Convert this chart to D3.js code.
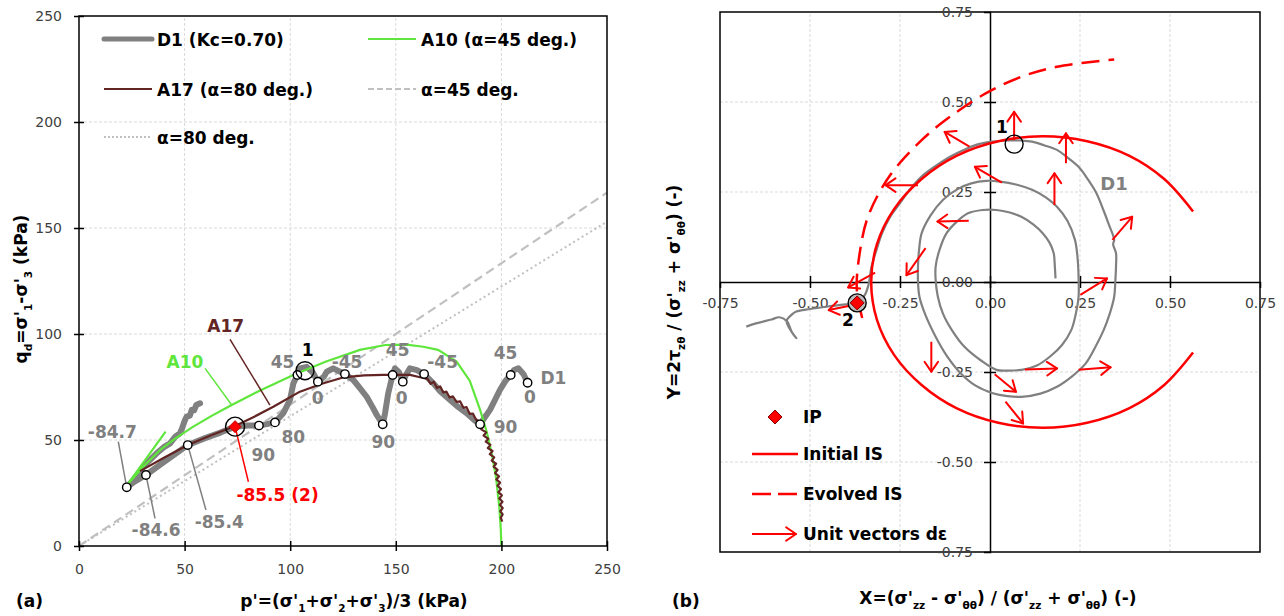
<!DOCTYPE html>
<html><head><meta charset="utf-8">
<script src="https://cdn.jsdelivr.net/npm/d3@7"></script>
<style>
body{margin:0;background:#fff;}
svg{display:block;font-family:"DejaVu Sans",Lato,sans-serif;}
</style></head><body>
<svg id="c" width="1284" height="616"></svg>
<script>
// ---------- DATA: left panel (p', q) ----------
const pTicks = [0, 50, 100, 150, 200, 250];
const qTicks = [0, 50, 100, 150, 200, 250];

const D1_p = [57.3,55.5,54.5,53.4,52.5,51.0,50.0,48.8,47.8,45.5,43.1,40.0,36.8,33.5,30.4,27.5,25.0,22.6,
  26.5,31.7,40.0,51.5,60.0,67.0,73.9,80.0,85.2,89.0,92.8,96.7,99.9,101.5,103.4,104.6,107.8,110.9,113.1,
  116.0,117.3,120.4,123.0,125.9,129.9,133.0,136.2,139.0,141.0,143.8,144.9,146.4,148.5,149.6,151.5,153.3,
  155.0,156.7,160.0,163.4,167.8,171.0,175.7,179.0,183.6,187.0,189.9,192.0,194.6,197.0,199.3,202.0,204.4,
  206.0,208.0,210.5,212.4];
const D1_q = [67.3,66.5,64.0,64.2,61.5,61.0,59.0,55.5,53.2,51.5,48.4,46.5,43.7,40.5,37.4,33.5,30.3,27.7,
  30.5,33.5,39.5,47.6,51.0,53.5,56.3,56.8,56.8,57.5,58.3,62.6,68.9,76.7,80.7,83.8,84.5,81.5,77.5,
  80.0,82.2,83.8,82.5,81.1,78.3,74.5,70.4,65.5,61.8,57.4,62.6,72.0,80.7,83.8,82.0,77.5,
  81.0,83.8,83.0,81.1,76.7,73.0,68.9,66.0,62.6,59.5,57.4,60.5,64.2,69.0,73.6,78.0,80.7,
  83.0,83.8,81.0,77.0];

const A10_p = [41.0,22.6,30.0,38.4,46.0,54.1,63.0,72.3,86.0,101.5,117.0,133.0,145.0,155.0,163.0,170.0,178.8,185.0,190.0,193.0,195.4,197.5,199.0,199.7,200.0];
const A10_q = [54.0,28.5,37.0,45.3,51.0,56.3,61.5,66.5,73.5,80.7,87.0,92.5,94.8,95.0,94.0,92.5,87.0,78.0,64.0,54.0,43.7,32.0,18.5,8.0,0.0];

const A17_p = [28.9,40.0,51.5,62.0,73.9,83.0,92.0,104.6,115.0,125.0,135.0,144.0,156.7,162.0,
  165.0,166.5,168.0,169.5,171.0,172.5,174.0,175.5,177.0,178.8,180.5,182.0,183.5,185.0,186.5,188.0,189.9,
  191.5,190.5,192.8,191.6,193.8,192.6,194.8,193.6,195.8,194.5,196.6,195.4,197.5,196.3,198.2,197.0,198.9,197.6,
  199.4,198.2,199.8,198.6,200.2,199.0,200.5,199.3,200.6,199.5,200.6,199.7,200.4];
const A17_q = [35.3,41.5,47.6,52.0,56.6,61.0,65.7,72.8,76.5,79.5,80.5,80.7,80.7,79.5,
  78.8,76.5,77.5,74.5,75.3,72.4,72.8,70.0,70.6,68.0,68.2,65.2,65.5,62.3,62.5,59.5,58.6,
  56.5,55.0,53.6,52.1,50.6,49.2,47.7,46.2,44.8,43.3,41.8,40.3,38.8,37.4,35.9,34.4,32.9,31.4,
  29.9,28.4,26.9,25.4,23.9,22.4,20.9,19.4,17.9,16.4,14.9,13.4,11.5];

const alpha45_p = [0, 250], alpha45_q = [0, 166.7];
const alpha80_p = [0, 250], alpha80_q = [0, 153.0];

const marker_p = [22.6,31.7,51.5,85.2,92.8,103.4,113.1,125.9,143.8,148.5,153.3,163.4,189.9,204.4,212.4];
const marker_q = [27.7,33.5,47.6,56.8,58.3,80.7,77.5,81.1,57.4,80.7,77.5,81.1,57.4,80.7,77.0];

const IP_left = [73.9, 56.3];
const point1_left = [107.0, 82.7];

// angle labels (text, p, q)
const angleLabels = ["45","0","-45","80","90","90","45","0","-45","90","45","0","D1"];
const angleLabel_p = [96.4,113.0,126.9,101.5,87.3,144.1,150.9,152.8,172.2,202.0,202.0,213.5,224.6];
const angleLabel_q = [87.0,69.7,86.8,51.6,42.9,49.2,92.5,69.7,87.0,56.3,90.9,70.1,79.1];

// callouts: text, text position, leader from -> to
const callouts = [
  {t:"-84.7", c:"#808080", tp:15.8, tq:53.9, p0:18.6, q0:49.2, p1:22.6, q1:27.7},
  {t:"-84.6", c:"#808080", tp:36.5, tq:7.5,  p0:31.7, q0:33.5, p1:36.0, q1:13.0},
  {t:"-85.4", c:"#808080", tp:66.4, tq:11.5, p0:51.5, q0:47.6, p1:60.1, q1:17.0},
  {t:"-85.5 (2)", c:"#ff0000", tp:94.0, tq:24.0, p0:73.9, q0:56.3, p1:80.2, q1:30.3},
  {t:"A10", c:"#5fe63c", tp:50.2, tq:87.0, p0:59.7, q0:83.8, p1:72.3, q1:66.5},
  {t:"A17", c:"#632523", tp:69.5, tq:104.0, p0:71.5, q0:97.5, p1:90.4, q1:66.5}
];

// ---------- DATA: right panel (X, Y) ----------
const xyTicks = [-0.75, -0.5, -0.25, 0, 0.25, 0.5, 0.75];
const xyTickLabels = ["-0.75","-0.50","-0.25","0.00","0.25","0.50","0.75"];

const D1r_X = [-0.677,-0.650,-0.607,-0.585,-0.565,-0.550,-0.538,-0.550,-0.565,-0.550,-0.538,-0.500,-0.450,-0.400,-0.369,
 -0.350,-0.338,-0.329,-0.315,-0.300,-0.278,-0.250,-0.220,-0.190,-0.150,-0.111,-0.070,-0.032,0.008,0.048,0.085,0.117,0.150,0.186,0.215,0.246,0.272,0.296,0.315,0.330,0.345,0.342,0.350,0.350,0.348,0.345,0.332,0.316,0.293,0.266,0.228,0.186,0.140,0.087,0.048,0.008,-0.040,-0.081,-0.120,-0.151,-0.180,-0.196,-0.200,
 -0.200,-0.197,-0.190,-0.165,-0.131,-0.090,-0.052,-0.010,0.028,0.075,0.117,0.155,0.186,0.215,0.236,0.243,0.246,0.246,0.238,0.226,0.200,0.167,0.130,0.087,0.050,0.018,-0.025,-0.071,-0.105,-0.131,-0.145,-0.151,
 -0.151,-0.140,-0.121,-0.095,-0.061,-0.020,0.018,0.055,0.087,0.120,0.147,0.165,0.177,0.180,0.182];
const D1r_Y = [-0.124,-0.115,-0.104,-0.098,-0.108,-0.140,-0.156,-0.140,-0.108,-0.090,-0.082,-0.075,-0.068,-0.062,-0.058,
 -0.040,-0.010,0.043,0.090,0.135,0.180,0.219,0.260,0.293,0.323,0.348,0.368,0.383,0.390,0.393,0.393,0.390,0.380,0.367,0.346,0.320,0.285,0.246,0.200,0.160,0.117,0.105,0.080,0.043,0.000,-0.041,-0.090,-0.133,-0.180,-0.226,-0.262,-0.291,-0.310,-0.319,-0.317,-0.309,-0.288,-0.254,-0.205,-0.152,-0.090,-0.041,0.000,
 0.043,0.090,0.135,0.185,0.228,0.258,0.274,0.281,0.279,0.270,0.256,0.235,0.209,0.170,0.117,0.070,0.015,-0.041,-0.090,-0.133,-0.175,-0.207,-0.232,-0.244,-0.246,-0.244,-0.218,-0.180,-0.135,-0.087,-0.040,0.006,
 0.043,0.090,0.135,0.165,0.191,0.200,0.200,0.193,0.181,0.160,0.135,0.110,0.080,0.045,0.010];

const initIS_X = [0.564,0.484,0.386,0.270,0.147,0.023,-0.092,-0.190,-0.266,-0.314,-0.330,-0.314,-0.266,-0.190,-0.092,0.023,0.147,0.270,0.386,0.484,0.564];
const initIS_Y = [0.196,0.286,0.351,0.391,0.405,0.391,0.351,0.286,0.203,0.105,0.000,-0.105,-0.203,-0.286,-0.351,-0.391,-0.405,-0.391,-0.351,-0.286,-0.196];

const evolIS_X = [-0.355,-0.370,-0.362,-0.339,-0.280,-0.190,-0.111,-0.012,0.087,0.186,0.345];
const evolIS_Y = [-0.100,-0.020,0.080,0.181,0.293,0.394,0.459,0.524,0.570,0.598,0.618];

const vec_X0 = [0.067,0.211,-0.057,0.033,-0.200,0.179,-0.059,-0.179,-0.319,0.340,0.251,-0.163,0.097,0.246,0.013,0.043,-0.379];
const vec_Y0 = [0.394,0.330,0.376,0.276,0.269,0.214,0.170,0.094,0.026,0.117,-0.036,-0.166,-0.243,-0.244,-0.256,-0.332,-0.064];
const vec_X1 = [0.067,0.211,-0.126,-0.042,-0.290,0.179,-0.146,-0.232,-0.394,0.395,0.325,-0.163,0.186,0.335,0.072,0.092,-0.448];
const vec_Y1 = [0.473,0.413,0.417,0.320,0.269,0.302,0.168,0.019,-0.015,0.181,0.010,-0.249,-0.240,-0.237,-0.305,-0.393,-0.078];

const IP_right = [-0.369, -0.058];
const point1_right = [0.067, 0.383];

// ---------- DRAW ----------
const svg = d3.select("#c");
const GRAY = "#808080", RED = "#ff0000", GREEN = "#5fe63c", BROWN = "#632523", GRID = "#d9d9d9", TICKC = "#404040";
const FS = 17, TFS = 14, FONT = "'DejaVu Sans', Lato, sans-serif";

const xL = d3.scaleLinear().domain([0, 250]).range([79, 607]);
const yL = d3.scaleLinear().domain([0, 250]).range([546, 16]);
const xR = d3.scaleLinear().domain([-0.75, 0.75]).range([720, 1260]);
const yR = d3.scaleLinear().domain([-0.75, 0.75]).range([552, 12]);

function richText(g, x, y, parts, size, anchor, color, rotate) {
  const t = g.append("text").attr("font-size", size).attr("font-weight", "bold")
    .attr("fill", color || "#000").attr("text-anchor", anchor || "middle");
  if (rotate) t.attr("transform", `translate(${x},${y}) rotate(-90)`);
  else t.attr("x", x).attr("y", y);
  let shifted = false;
  parts.forEach(([s, sub]) => {
    const ts = t.append("tspan").text(s);
    if (sub && !shifted) { ts.attr("dy", size * 0.28).attr("font-size", size * 0.62); shifted = true; }
    else if (sub) { ts.attr("font-size", size * 0.62); }
    else if (!sub && shifted) { ts.attr("dy", -size * 0.28); shifted = false; }
  });
  return t;
}
function arrow(g, x0, y0, x1, y1, color, w) {
  g.append("line").attr("x1", x0).attr("y1", y0).attr("x2", x1).attr("y2", y1)
    .attr("stroke", color).attr("stroke-width", w);
  const a = Math.atan2(y1 - y0, x1 - x0), L = 12, h = 0.6;
  [a + Math.PI - h, a + Math.PI + h].forEach(b => {
    g.append("line").attr("x1", x1).attr("y1", y1)
      .attr("x2", x1 + L * Math.cos(b)).attr("y2", y1 + L * Math.sin(b))
      .attr("stroke", color).attr("stroke-width", w).attr("stroke-linecap", "round");
  });
}

// ===== LEFT PANEL =====
const gl = svg.append("g");
gl.selectAll(".gx").data(pTicks.slice(1, -1)).join("line")
  .attr("x1", d => xL(d)).attr("x2", d => xL(d)).attr("y1", yL(0)).attr("y2", yL(250))
  .attr("stroke", GRID).attr("stroke-dasharray", "3,2");
gl.selectAll(".gy").data(qTicks.slice(1, -1)).join("line")
  .attr("y1", d => yL(d)).attr("y2", d => yL(d)).attr("x1", xL(0)).attr("x2", xL(250))
  .attr("stroke", GRID).attr("stroke-dasharray", "3,2");

const lineL = (px, qy) => d3.line()(px.map((p, i) => [xL(p), yL(qy[i])]));
gl.append("path").attr("d", lineL(alpha45_p, alpha45_q)).attr("fill", "none")
  .attr("stroke", "#c0c0c0").attr("stroke-width", 2.2).attr("stroke-dasharray", "9,5");
gl.append("path").attr("d", lineL(alpha80_p, alpha80_q)).attr("fill", "none")
  .attr("stroke", "#c0c0c0").attr("stroke-width", 2).attr("stroke-dasharray", "2,3");

gl.append("path").attr("d", lineL(D1_p, D1_q)).attr("fill", "none")
  .attr("stroke", GRAY).attr("stroke-width", 6).attr("stroke-linejoin", "round").attr("stroke-linecap", "round");
gl.append("path").attr("d", lineL(A10_p, A10_q)).attr("fill", "none")
  .attr("stroke", GREEN).attr("stroke-width", 2.2);
gl.append("path").attr("d", lineL(A17_p, A17_q)).attr("fill", "none")
  .attr("stroke", BROWN).attr("stroke-width", 2.2).attr("stroke-linejoin", "round");

gl.append("rect").attr("x", xL(0)).attr("y", yL(250)).attr("width", xL(250) - xL(0)).attr("height", yL(0) - yL(250))
  .attr("fill", "none").attr("stroke", "#000").attr("stroke-width", 1.5);

const axB = gl.append("g").attr("transform", `translate(0,${yL(0)})`)
  .call(d3.axisBottom(xL).tickValues(pTicks).tickSize(5).tickPadding(13));
const axLft = gl.append("g").attr("transform", `translate(${xL(0)},0)`)
  .call(d3.axisLeft(yL).tickValues(qTicks).tickSize(5).tickPadding(12));
[axB, axLft].forEach(a => {
  a.select(".domain").remove();
  a.selectAll("text").attr("font-size", TFS).attr("fill", TICKC).attr("font-family", FONT);
  a.selectAll("line").attr("stroke", "#000").attr("stroke-width", 1.5);
});
axB.selectAll(".tick line").attr("y1", -5).attr("y2", 5);
axLft.selectAll(".tick line").attr("x1", 5).attr("x2", -5);

callouts.forEach(c => {
  gl.append("line").attr("x1", xL(c.p0)).attr("y1", yL(c.q0)).attr("x2", xL(c.p1)).attr("y2", yL(c.q1))
    .attr("stroke", c.c).attr("stroke-width", 1.5);
});
gl.selectAll(".mk").data(marker_p).join("circle")
  .attr("cx", d => xL(d)).attr("cy", (d, i) => yL(marker_q[i])).attr("r", 4.2)
  .attr("fill", "#fff").attr("stroke", "#000").attr("stroke-width", 1.4);
const dia = (cx, cy, s) => `M${cx},${cy - s}L${cx + s},${cy}L${cx},${cy + s}L${cx - s},${cy}Z`;
gl.append("path").attr("d", dia(xL(IP_left[0]), yL(IP_left[1]), 6)).attr("fill", RED).attr("stroke", "#c00000").attr("stroke-width", 1);
gl.append("circle").attr("cx", xL(IP_left[0])).attr("cy", yL(IP_left[1])).attr("r", 9.5)
  .attr("fill", "none").attr("stroke", "#000").attr("stroke-width", 1.4);
gl.append("circle").attr("cx", xL(point1_left[0])).attr("cy", yL(point1_left[1])).attr("r", 9)
  .attr("fill", "none").attr("stroke", "#000").attr("stroke-width", 1.4);

callouts.forEach(c => {
  gl.append("text").attr("x", xL(c.tp)).attr("y", yL(c.tq)).attr("dominant-baseline", "central")
    .attr("text-anchor", "middle").attr("font-size", FS).attr("font-weight", "bold").attr("fill", c.c).text(c.t);
});
angleLabels.forEach((t, i) => {
  gl.append("text").attr("x", xL(angleLabel_p[i])).attr("y", yL(angleLabel_q[i])).attr("dominant-baseline", "central")
    .attr("text-anchor", "middle").attr("font-size", FS).attr("font-weight", "bold").attr("fill", GRAY).text(t);
});
gl.append("text").attr("x", xL(108.3)).attr("y", yL(92.5)).attr("dominant-baseline", "central")
  .attr("text-anchor", "middle").attr("font-size", FS).attr("font-weight", "bold").attr("fill", "#000").text("1");

// legend (left)
const legL = [
  {t: "D1 (Kc=0.70)", x: 104, y: 39, c: GRAY, w: 5, dash: null},
  {t: "A10 (α=45 deg.)", x: 368, y: 39, c: GREEN, w: 2.2, dash: null},
  {t: "A17 (α=80 deg.)", x: 104, y: 89, c: BROWN, w: 2.2, dash: null},
  {t: "α=45 deg.", x: 368, y: 89, c: "#c0c0c0", w: 2, dash: "6,3"},
  {t: "α=80 deg.", x: 104, y: 137, c: "#c0c0c0", w: 2, dash: "2,2"}
];
legL.forEach(l => {
  gl.append("line").attr("x1", l.x).attr("x2", l.x + 48).attr("y1", l.y).attr("y2", l.y)
    .attr("stroke", l.c).attr("stroke-width", l.w).attr("stroke-dasharray", l.dash)
    .attr("stroke-linecap", l.w > 3 ? "round" : "butt");
  gl.append("text").attr("x", l.x + 53).attr("y", l.y + 1).attr("dominant-baseline", "central")
    .attr("font-size", FS).attr("font-weight", "bold").attr("fill", "#000").text(l.t);
});

richText(gl, 354, 607, [["p'=(σ'", 0], ["1", 1], ["+σ'", 0], ["2", 1], ["+σ'", 0], ["3", 1], [")/3 (kPa)", 0]], FS, "middle");
richText(gl, 27, 289, [["q", 0], ["d", 1], ["=σ'", 0], ["1", 1], ["-σ'", 0], ["3", 1], [" (kPa)", 0]], FS, "middle", "#000", true);
gl.append("text").attr("x", 16).attr("y", 607).attr("font-size", FS).attr("font-weight", "bold").text("(a)");

// ===== RIGHT PANEL =====
const gr = svg.append("g");
const gridVals = [-0.5, -0.25, 0.25, 0.5];
gr.selectAll(".gx").data(gridVals).join("line")
  .attr("x1", d => xR(d)).attr("x2", d => xR(d)).attr("y1", yR(-0.75)).attr("y2", yR(0.75))
  .attr("stroke", GRID).attr("stroke-dasharray", "3,2");
gr.selectAll(".gy").data(gridVals).join("line")
  .attr("y1", d => yR(d)).attr("y2", d => yR(d)).attr("x1", xR(-0.75)).attr("x2", xR(0.75))
  .attr("stroke", GRID).attr("stroke-dasharray", "3,2");
gr.append("rect").attr("x", xR(-0.75)).attr("y", yR(0.75)).attr("width", xR(0.75) - xR(-0.75)).attr("height", yR(-0.75) - yR(0.75))
  .attr("fill", "none").attr("stroke", "#000").attr("stroke-width", 1.5);

const fmt = d => xyTickLabels[xyTicks.indexOf(d)];
const axX = gr.append("g").attr("transform", `translate(0,${yR(0)})`)
  .call(d3.axisBottom(xR).tickValues(xyTicks).tickFormat(fmt).tickSize(6).tickPadding(10));
const axY = gr.append("g").attr("transform", `translate(${xR(0)},0)`)
  .call(d3.axisLeft(yR).tickValues(xyTicks).tickFormat(fmt).tickSize(6).tickPadding(11));
[axX, axY].forEach(a => {
  a.select(".domain").attr("stroke", "#000").attr("stroke-width", 1.5);
  a.selectAll("text").attr("font-size", TFS).attr("fill", TICKC).attr("font-family", FONT);
  a.selectAll(".tick line").attr("stroke", "#000").attr("stroke-width", 1.5);
});
axX.selectAll(".tick line").attr("y1", -6).attr("y2", 6);
axY.selectAll(".tick line").attr("x1", 6).attr("x2", -6);
axX.selectAll(".tick").filter(d => d === -0.75 || d === 0.75).select("line").remove();
axY.selectAll(".tick").filter(d => d === -0.75 || d === 0.75).select("line").remove();

const lineR = (xs, ys, curve) => d3.line().curve(curve || d3.curveLinear)(xs.map((x, i) => [xR(x), yR(ys[i])]));
gr.append("path").attr("d", lineR(D1r_X, D1r_Y, d3.curveCatmullRom)).attr("fill", "none")
  .attr("stroke", GRAY).attr("stroke-width", 2.2).attr("stroke-linejoin", "round");
gr.append("path").attr("d", lineR(initIS_X, initIS_Y, d3.curveCatmullRom)).attr("fill", "none")
  .attr("stroke", RED).attr("stroke-width", 2.5);
gr.append("path").attr("d", lineR(evolIS_X, evolIS_Y, d3.curveCatmullRom)).attr("fill", "none")
  .attr("stroke", RED).attr("stroke-width", 2.5).attr("stroke-dasharray", "18,9");

vec_X0.forEach((x, i) => arrow(gr, xR(x), yR(vec_Y0[i]), xR(vec_X1[i]), yR(vec_Y1[i]), RED, 2));

gr.append("circle").attr("cx", xR(point1_right[0])).attr("cy", yR(point1_right[1])).attr("r", 9)
  .attr("fill", "none").attr("stroke", "#000").attr("stroke-width", 1.4);
gr.append("circle").attr("cx", xR(IP_right[0])).attr("cy", yR(IP_right[1])).attr("r", 9)
  .attr("fill", "#bbb").attr("stroke", "#000").attr("stroke-width", 1.4);
gr.append("path").attr("d", dia(xR(IP_right[0]), yR(IP_right[1]), 7)).attr("fill", RED).attr("stroke", "#800000").attr("stroke-width", 1);
gr.append("text").attr("x", 1002).attr("y", 127).attr("dominant-baseline", "central").attr("text-anchor", "middle")
  .attr("font-size", FS).attr("font-weight", "bold").text("1");
gr.append("text").attr("x", 848).attr("y", 320).attr("dominant-baseline", "central").attr("text-anchor", "middle")
  .attr("font-size", FS).attr("font-weight", "bold").text("2");
gr.append("text").attr("x", 1114).attr("y", 183).attr("dominant-baseline", "central").attr("text-anchor", "middle")
  .attr("font-size", FS + 1).attr("font-weight", "bold").attr("fill", GRAY).text("D1");

// legend right
const lx = 752, tx = 803;
gr.append("path").attr("d", dia(775, 417, 7)).attr("fill", RED).attr("stroke", "#800000").attr("stroke-width", 1);
gr.append("line").attr("x1", lx).attr("x2", lx + 46).attr("y1", 454).attr("y2", 454).attr("stroke", RED).attr("stroke-width", 2.5);
gr.append("line").attr("x1", lx).attr("x2", lx + 46).attr("y1", 494).attr("y2", 494).attr("stroke", RED).attr("stroke-width", 2.5).attr("stroke-dasharray", "19,7");
arrow(gr, lx, 534, lx + 44, 534, RED, 2);
[["IP", 417], ["Initial IS", 454], ["Evolved IS", 494], ["Unit vectors dε", 534]].forEach(([t, y]) => {
  gr.append("text").attr("x", tx).attr("y", y).attr("dominant-baseline", "central")
    .attr("font-size", FS).attr("font-weight", "bold").text(t);
});

richText(gr, 998, 604, [["X=(σ'", 0], ["zz", 1], [" - σ'", 0], ["θθ", 1], [") / (σ'", 0], ["zz", 1], [" + σ'", 0], ["θθ", 1], [") (-)", 0]], FS, "middle");
richText(gr, 680, 292, [["Y=2τ", 0], ["zθ", 1], [" / (σ'", 0], ["zz", 1], [" + σ'", 0], ["θθ", 1], [") (-)", 0]], FS, "middle", "#000", true);
gr.append("text").attr("x", 672).attr("y", 607).attr("font-size", FS).attr("font-weight", "bold").text("(b)");
</script></body></html>
